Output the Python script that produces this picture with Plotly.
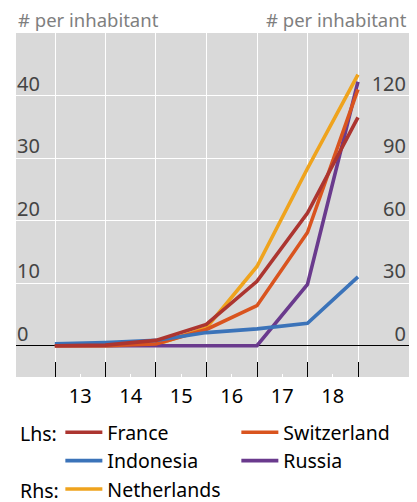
import plotly.graph_objects as go

# ---- data ----
dates = ["2012-12-31", "2013-12-31", "2014-12-31", "2015-12-31",
         "2016-12-31", "2017-12-31", "2018-12-31"]
france = [0.0, 0.1, 0.85, 3.4, 10.3, 21.2, 36.5]
switzerland = [0.0, 0.0, 0.3, 2.6, 6.4, 18.1, 41.0]
indonesia = [0.3, 0.5, 0.85, 2.1, 2.7, 3.6, 11.0]
russia = [0.0, 0.0, 0.0, 0.0, 0.0, 9.8, 42.2]
netherlands = [0.0, 0.0, 0.5, 8.5, 38.0, 85.0, 130.0]  # rhs

year_label_pos = ["2013-07-02", "2014-07-02", "2015-07-02",
                  "2016-07-02", "2017-07-02", "2018-07-02"]
year_labels = ["13", "14", "15", "16", "17", "18"]
year_bounds = ["2013-01-01", "2014-01-01", "2015-01-01", "2016-01-01",
               "2017-01-01", "2018-01-01", "2019-01-01"]
lhs_ticks = [0, 10, 20, 30, 40]
rhs_ticks = [0, 30, 60, 90, 120]

FONT = "Noto Sans"
C_FR = "#AC3530"
C_CH = "#D9541F"
C_ID = "#3B73B9"
C_RU = "#6A3A8D"
C_NL = "#EFA31D"

fig = go.Figure()
LW = 3.6
# Netherlands on rhs (base axis), drawn beneath
fig.add_trace(go.Scatter(x=dates, y=netherlands, mode="lines", name="Netherlands",
                         line=dict(color=C_NL, width=LW), yaxis="y", legendrank=5))
fig.add_trace(go.Scatter(x=dates, y=russia, mode="lines", name="Russia",
                         line=dict(color=C_RU, width=LW), yaxis="y2", legendrank=4))
fig.add_trace(go.Scatter(x=dates, y=switzerland, mode="lines", name="Switzerland",
                         line=dict(color=C_CH, width=LW), yaxis="y2", legendrank=2))
fig.add_trace(go.Scatter(x=dates, y=indonesia, mode="lines", name="Indonesia",
                         line=dict(color=C_ID, width=LW), yaxis="y2", legendrank=3))
fig.add_trace(go.Scatter(x=dates, y=france, mode="lines", name="France",
                         line=dict(color=C_FR, width=LW), yaxis="y2", legendrank=1))

# the page body has an 8px margin, so the figure is drawn 8px right/down
fig.update_layout(
    width=409, height=494,
    margin=dict(l=8, r=8, t=25, b=125, autoexpand=False),
    paper_bgcolor="white",
    plot_bgcolor="#D9D9D9",
    font=dict(family=FONT, color="#000000", size=19.5),
    showlegend=True,
    legend=dict(
        orientation="h", xref="container", yref="container",
        x=0.128, xanchor="left", y=0.18, yanchor="top",
        entrywidth=124, entrywidthmode="pixels",
        font=dict(size=19.5, family=FONT), bgcolor="rgba(0,0,0,0)",
        traceorder="normal", itemwidth=37,
    ),
    xaxis=dict(
        type="date",
        range=["2012-03-25", "2020-01-04"],
        tickmode="array", tickvals=year_label_pos, ticktext=year_labels,
        ticks="inside", ticklen=3, tickcolor="white", tickwidth=1,
        showgrid=False, zeroline=False, showline=False,
        tickfont=dict(size=20), ticklabelstandoff=5,
        minor=dict(tickmode="array", tickvals=year_bounds, ticks="inside",
                   ticklen=15, tickcolor="black", tickwidth=1,
                   showgrid=True, gridcolor="white", gridwidth=1),
    ),
    yaxis=dict(
        side="right", range=[-15, 150],
        tickmode="array", tickvals=rhs_ticks,
        showgrid=True, gridcolor="white", gridwidth=1.3,
        zeroline=False, showline=False, ticks="",
        ticklabelposition="inside", ticklabelshift=-12,
        tickfont=dict(size=20),
    ),
    yaxis2=dict(
        overlaying="y", side="left", range=[-5, 50],
        tickmode="array", tickvals=lhs_ticks,
        showgrid=False, zeroline=True, zerolinecolor="black", zerolinewidth=1,
        showline=False, ticks="",
        ticklabelposition="inside", ticklabelshift=-12, ticklabelstandoff=-2,
        tickfont=dict(size=20),
    ),
    annotations=[
        dict(text="# per inhabitant", xref="paper", yref="paper", x=0, y=1.038,
             xanchor="left", yanchor="middle", showarrow=False,
             font=dict(size=18.5, color="#7F7F7F", family=FONT)),
        dict(text="# per inhabitant", xref="paper", yref="paper", x=1, y=1.038,
             xanchor="right", yanchor="middle", showarrow=False,
             font=dict(size=18.5, color="#7F7F7F", family=FONT)),
        dict(text="Lhs:", xref="paper", yref="paper", x=0.005, y=-0.163,
             xanchor="left", yanchor="middle", showarrow=False, height=20,
             font=dict(size=19.5, family=FONT)),
        dict(text="Rhs:", xref="paper", yref="paper", x=0.005, y=-0.329,
             xanchor="left", yanchor="middle", showarrow=False, height=20,
             font=dict(size=19.5, family=FONT)),
    ],
)

fig.write_html("out.html")
